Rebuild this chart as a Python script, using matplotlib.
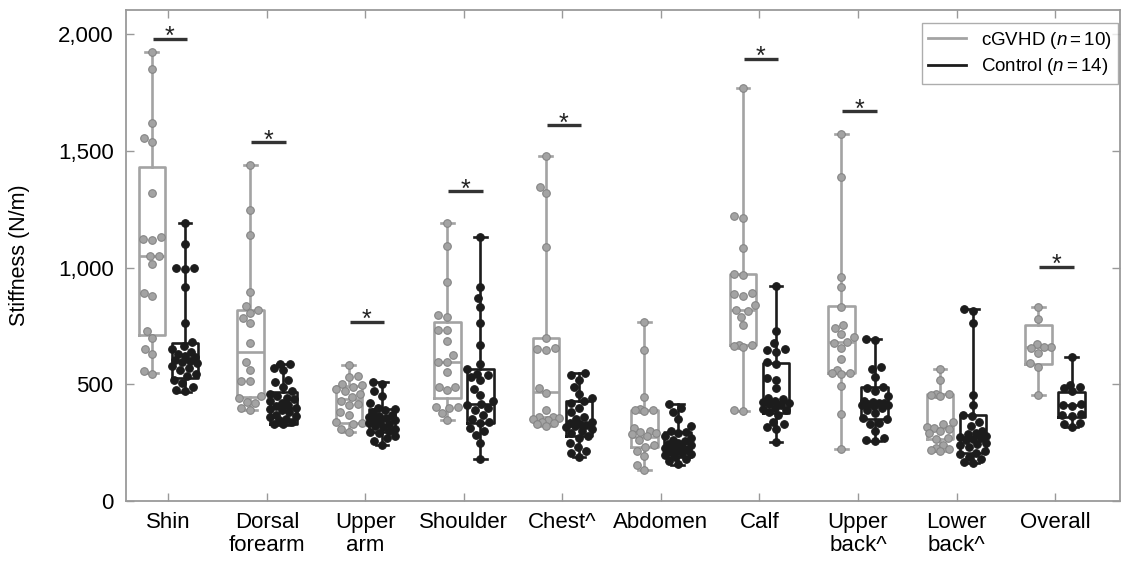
import matplotlib
matplotlib.use('Agg')
import matplotlib.pyplot as plt
from matplotlib.lines import Line2D
import numpy as np

plt.rcParams['font.family'] = ['Liberation Sans', 'DejaVu Sans']
plt.rcParams['mathtext.fontset'] = 'custom'
plt.rcParams['mathtext.it'] = 'Liberation Sans:italic'
plt.rcParams['mathtext.rm'] = 'Liberation Sans'

categories = ['Shin', 'Dorsal\nforearm', 'Upper\narm', 'Shoulder', 'Chest^',
              'Abdomen', 'Calf', 'Upper\nback^', 'Lower\nback^', 'Overall']

# box statistics
gvhd_lo = [547, 390, 297, 347, 321, 133, 385, 221, 215, 454]
gvhd_q1 = [711, 447, 335, 440, 361, 230, 668, 547, 266, 587]
gvhd_med = [1050, 640, 436, 597, 468, 276, 818, 680, 311, 659]
gvhd_q3 = [1430, 818, 493, 768, 697, 390, 971, 837, 457, 754]
gvhd_hi = [1925, 1440, 583, 1190, 1479, 766, 1771, 1575, 565, 830]

ctrl_lo = [468, 326, 240, 180, 190, 154, 254, 258, 161, 318]
ctrl_q1 = [528, 330, 297, 333, 278, 190, 378, 350, 204, 359]
ctrl_med = [600, 400, 350, 414, 326, 233, 425, 411, 276, 411]
ctrl_q3 = [676, 468, 393, 564, 430, 297, 590, 487, 368, 468]
ctrl_hi = [1190, 587, 511, 1130, 547, 414, 922, 693, 821, 616]

# individual measurements
gvhd_pts = [
    [1925, 1853, 1621, 1557, 1540, 1318, 1130, 1125, 1120, 1050, 1050, 1014, 892, 878, 727, 697, 651, 630, 558, 544],
    [1440, 1247, 1140, 897, 837, 818, 804, 783, 761, 676, 594, 561, 515, 515, 448, 440, 425, 420, 400, 390],
    [583, 535, 530, 500, 495, 490, 480, 470, 460, 445, 430, 415, 410, 380, 370, 340, 335, 330, 310, 297],
    [1190, 1093, 940, 797, 790, 733, 733, 686, 626, 597, 597, 554, 490, 490, 476, 404, 404, 400, 378, 347],
    [1479, 1347, 1321, 1090, 697, 655, 650, 645, 484, 463, 390, 362, 358, 355, 350, 345, 340, 335, 330, 321],
    [766, 647, 444, 395, 392, 388, 385, 311, 300, 295, 290, 285, 280, 260, 240, 232, 216, 193, 154, 133],
    [1771, 1222, 1215, 1083, 975, 970, 890, 885, 880, 840, 820, 815, 790, 754, 670, 668, 665, 660, 390, 385],
    [1575, 1387, 958, 918, 830, 754, 740, 714, 701, 682, 678, 654, 608, 560, 550, 547, 545, 493, 373, 221],
    [565, 518, 460, 458, 455, 452, 340, 330, 315, 311, 308, 300, 290, 270, 265, 240, 226, 222, 218, 215],
    [830, 780, 673, 662, 659, 655, 633, 590, 573, 454],
]
ctrl_pts = [
    [1190, 1102, 1000, 1000, 995, 918, 761, 680, 665, 650, 640, 630, 620, 615, 605, 600, 595, 590, 580, 570, 560, 545, 535, 520, 505, 490, 475, 470],
    [587, 585, 570, 560, 520, 510, 490, 470, 460, 450, 440, 435, 430, 420, 410, 405, 400, 395, 390, 380, 370, 365, 360, 350, 345, 340, 332, 328],
    [511, 500, 470, 450, 420, 400, 395, 390, 380, 370, 365, 360, 355, 350, 345, 340, 335, 330, 320, 315, 310, 300, 295, 290, 280, 270, 255, 240],
    [1130, 916, 868, 832, 761, 668, 587, 564, 545, 540, 530, 520, 480, 454, 430, 414, 410, 400, 390, 370, 350, 340, 335, 311, 300, 283, 250, 180],
    [547, 540, 520, 490, 460, 440, 430, 420, 400, 380, 360, 350, 340, 335, 330, 326, 320, 315, 310, 300, 290, 280, 270, 250, 230, 215, 205, 190],
    [414, 400, 380, 350, 320, 300, 295, 290, 280, 270, 260, 255, 250, 245, 240, 235, 230, 225, 220, 215, 210, 205, 200, 195, 190, 180, 170, 160],
    [922, 728, 676, 650, 645, 640, 595, 585, 526, 520, 483, 440, 435, 430, 425, 420, 415, 410, 400, 395, 390, 380, 370, 340, 330, 318, 310, 254],
    [693, 690, 575, 565, 530, 490, 485, 470, 450, 430, 425, 420, 418, 415, 412, 410, 405, 400, 390, 375, 355, 350, 335, 330, 300, 270, 262, 258],
    [821, 815, 764, 454, 411, 370, 365, 340, 320, 300, 290, 285, 280, 276, 270, 265, 260, 250, 245, 240, 230, 215, 205, 200, 190, 180, 165, 161],
    [616, 495, 490, 485, 470, 415, 411, 408, 372, 368, 365, 335, 332, 318],
]

# significance bar heights (None = not significant)
sig_y = [1982, 1537, 768, 1328, 1611, None, 1896, 1671, None, 1004]

GRAY = '#a3a3a3'
GRAY_EDGE = '#858585'
BLACK = '#1c1c1c'

PX_X = 98.5     # pixels per category unit
PX_Y = 0.2334   # pixels per N/m


def swarm(vals, center, d=8.5, maxoff=13.0):
    # simple beeswarm placement in pixel space
    vals = np.asarray(vals, float)
    xs = np.zeros(len(vals))
    placed = []
    cands = sorted(np.arange(-maxoff, maxoff + 0.1, 1.0), key=abs)
    for k in np.argsort(vals):
        yk = vals[k] * PX_Y
        best, bestd = 0.0, -1
        for off in cands:
            mind = min([np.hypot(off - px, yk - py) for px, py in placed] + [99])
            if mind >= d:
                best = off
                break
            if mind > bestd:
                bestd, best = mind, off
        placed.append((best, yk))
        xs[k] = center + best / PX_X
    return xs


fig = plt.figure(figsize=(11.25, 5.61), dpi=100)
ax = fig.add_axes([0.112, 0.107, 0.8836, 0.875])

off = 0.168
x = np.arange(len(categories))

for lo, q1, med, q3, hi, pts, pos, col, fc, ec in [
        (gvhd_lo, gvhd_q1, gvhd_med, gvhd_q3, gvhd_hi, gvhd_pts, x - off, GRAY, GRAY, GRAY_EDGE),
        (ctrl_lo, ctrl_q1, ctrl_med, ctrl_q3, ctrl_hi, ctrl_pts, x + off, BLACK, BLACK, BLACK)]:
    stats = [dict(whislo=lo[i], q1=q1[i], med=med[i], q3=q3[i], whishi=hi[i], fliers=[])
             for i in range(len(categories))]
    lp = dict(color=col, linewidth=1.9)
    ax.bxp(stats, positions=pos, widths=0.27, showfliers=False,
           boxprops=lp, medianprops=lp, whiskerprops=lp,
           capprops=dict(color=col, linewidth=1.9), capwidths=0.13,
           manage_ticks=False)
    for i in range(len(categories)):
        xs = swarm(pts[i], pos[i])
        ax.scatter(xs, pts[i], s=30, facecolor=fc, edgecolor=ec, linewidth=0.8, zorder=5)

for i, yv in enumerate(sig_y):
    if yv is None:
        continue
    ax.plot([i - 0.16, i + 0.19], [yv, yv], color='#333333', linewidth=2.4, solid_capstyle='butt')
    ax.text(i + 0.015, yv - 45, '*', ha='center', va='bottom', fontsize=18, color='#222222')

ax.set_xlim(-0.43, 9.66)
ax.set_ylim(0, 2104)
ax.set_xticks(x)
ax.set_xticklabels(categories, fontsize=16, va='top', linespacing=1.15)
ax.set_yticks([0, 500, 1000, 1500, 2000])
ax.set_yticklabels(['0', '500', '1,000', '1,500', '2,000'], fontsize=16)
ax.tick_params(axis='y', pad=9)
ax.tick_params(axis='x', pad=8)
ax.tick_params(direction='in', length=6, width=1, color='#999999',
               top=True, right=True)
for s in ax.spines.values():
    s.set_color('#9a9a9a')
    s.set_linewidth(1.3)
ax.set_ylabel('Stiffness (N/m)', fontsize=15.5)
ax.yaxis.set_label_coords(-0.097, 0.5)

handles = [Line2D([0], [0], color=GRAY, linewidth=2),
           Line2D([0], [0], color=BLACK, linewidth=2)]
leg = ax.legend(handles, [r'cGVHD ($n$$=$10)', r'Control ($n$$=$14)'],
                loc='upper right', bbox_to_anchor=(1 - 2 / 994, 1 - 13 / 491),
                fontsize=13.5, frameon=True, fancybox=False,
                handlelength=2.0, borderaxespad=0, borderpad=0.35,
                handletextpad=0.8, labelspacing=0.3)
leg.get_frame().set_edgecolor('#999999')
leg.get_frame().set_linewidth(1.0)

fig.savefig('out.png', dpi=100)
